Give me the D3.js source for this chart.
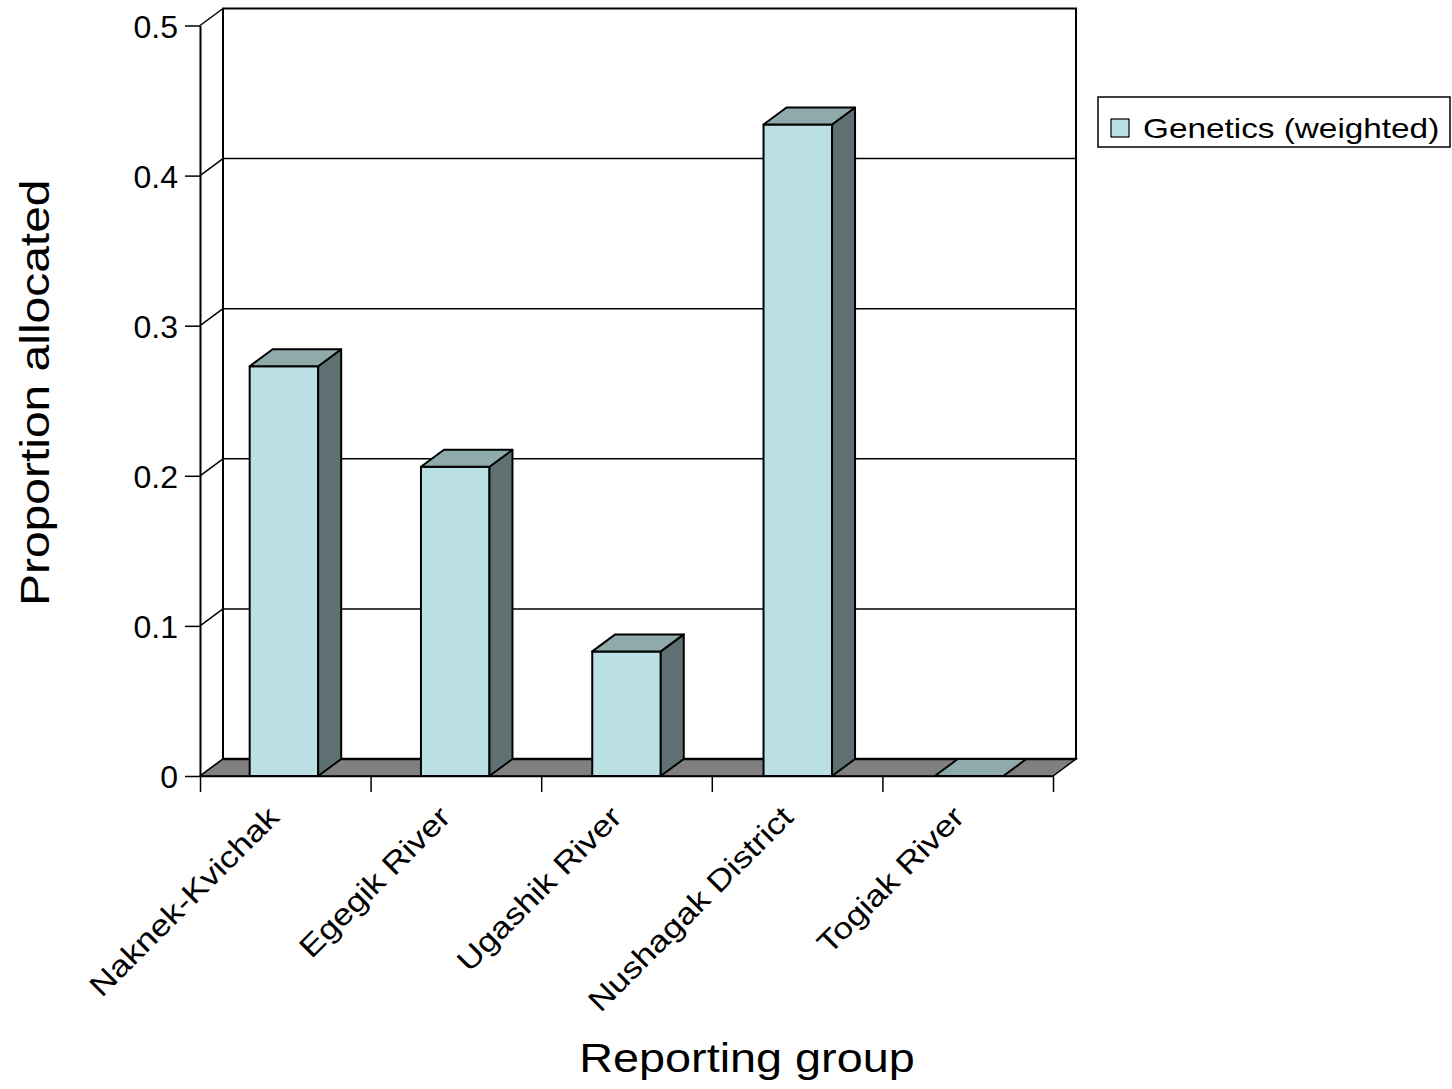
<!DOCTYPE html>
<html>
<head>
<meta charset="utf-8">
<script src="https://cdn.jsdelivr.net/npm/d3@7"></script>
<style>
  body { margin: 0; background: #fff; }
  text { font-family: "Liberation Sans", Arial, sans-serif; fill: #000; }
</style>
</head>
<body>
<svg id="chart" width="1452" height="1089"></svg>
<script>
// Allocation proportions per reporting group
const categories = ["Naknek-Kvichak", "Egegik River", "Ugashik River", "Nushagak District", "Togiak River"];
const seriesName = "Genetics (weighted)";
const values = [0.273, 0.206, 0.083, 0.434, 0.0];
const yTicks = [0, 0.1, 0.2, 0.3, 0.4, 0.5];
const yTickLabels = ["0", "0.1", "0.2", "0.3", "0.4", "0.5"];
const xTitle = "Reporting group";
const yTitle = "Proportion allocated";

const colors = { front: "#bbe0e3", top: "#8eaaab", side: "#5e7072", floor: "#808080" };

const svg = d3.select("#chart");

// plot frame (front plane) and 3D depth offset
const X0 = 200, X1 = 1053, Y0 = 776, Y1 = 25.5;
const DX = 23, DY = -17;
const STRETCH = 1.17;

const x = d3.scaleBand().domain(categories).range([X0, X1]).paddingInner(0.6).paddingOuter(0.29);
const xEdge = d3.scaleLinear().domain([0, categories.length]).range([X0, X1]);
const y = d3.scaleLinear().domain([0, 0.5]).range([Y0, Y1]);

const pts = a => a.map(p => p.join(",")).join(" ");

// back wall
const wall = svg.append("g");
wall.append("rect")
  .attr("x", X0 + DX).attr("y", y(0.5) + DY)
  .attr("width", X1 - X0).attr("height", y(0) - y(0.5))
  .attr("fill", "#fff").attr("stroke", "#000").attr("stroke-width", 2);

// gridlines on back wall
wall.selectAll("line.grid").data(yTicks.slice(1, -1)).join("line")
  .attr("class", "grid")
  .attr("x1", X0 + DX).attr("x2", X1 + DX)
  .attr("y1", d => y(d) + DY).attr("y2", d => y(d) + DY)
  .attr("stroke", "#000").attr("stroke-width", 1.5);

// side wall: diagonals from front axis to back wall at each tick
wall.selectAll("line.diag").data(yTicks).join("line")
  .attr("class", "diag")
  .attr("x1", X0).attr("y1", d => y(d))
  .attr("x2", X0 + DX).attr("y2", d => y(d) + DY)
  .attr("stroke", "#000").attr("stroke-width", 1.5);

// floor
svg.append("polygon")
  .attr("points", pts([[X0, y(0)], [X1, y(0)], [X1 + DX, y(0) + DY], [X0 + DX, y(0) + DY]]))
  .attr("fill", colors.floor).attr("stroke", "#000").attr("stroke-width", 1.5);
svg.append("line")
  .attr("x1", X0 + DX).attr("x2", X1 + DX).attr("y1", y(0) + DY).attr("y2", y(0) + DY)
  .attr("stroke", "#000").attr("stroke-width", 2.5);

// y axis
const yAxis = svg.append("g")
  .attr("transform", `translate(${X0},0)`)
  .call(d3.axisLeft(y).tickValues(yTicks).tickFormat((d, i) => yTickLabels[i])
    .tickSize(15).tickSizeOuter(0).tickPadding(7));
yAxis.select(".domain").attr("stroke", "#000").attr("stroke-width", 2);
yAxis.selectAll(".tick line").attr("stroke", "#000").attr("stroke-width", 1.5);
yAxis.selectAll(".tick text").attr("font-size", 32).attr("font-family", "Liberation Sans, Arial, sans-serif")
  .attr("fill", "#000").attr("dy", "0.36em");

// x axis ticks at category boundaries
const xAxis = svg.append("g")
  .attr("transform", `translate(0,${Y0})`)
  .call(d3.axisBottom(xEdge).tickValues(d3.range(categories.length + 1)).tickFormat("")
    .tickSize(16).tickSizeOuter(0));
xAxis.select(".domain").attr("stroke", "#000").attr("stroke-width", 1.5);
xAxis.selectAll(".tick line").attr("stroke", "#000").attr("stroke-width", 1.5);

// 3D bars
const bars = svg.append("g").selectAll("g.bar").data(categories.map((c, i) => ({ c, v: values[i] }))).join("g")
  .attr("class", "bar");
bars.each(function (d) {
  const g = d3.select(this);
  const l = x(d.c), r = x(d.c) + x.bandwidth(), t = y(d.v), b = y(0);
  if (d.v > 0) {
    g.append("polygon").attr("points", pts([[l, t], [r, t], [r, b], [l, b]]))
      .attr("fill", colors.front).attr("stroke", "#000").attr("stroke-width", 2).attr("stroke-linejoin", "round");
    g.append("polygon").attr("points", pts([[r, t], [r + DX, t + DY], [r + DX, b + DY], [r, b]]))
      .attr("fill", colors.side).attr("stroke", "#000").attr("stroke-width", 2).attr("stroke-linejoin", "round");
  }
  g.append("polygon").attr("points", pts([[l, t], [l + DX, t + DY], [r + DX, t + DY], [r, t]]))
    .attr("fill", colors.top).attr("stroke", "#000").attr("stroke-width", 2).attr("stroke-linejoin", "round");
});

// category labels, rotated
svg.append("g").selectAll("text.cat").data(categories).join("text")
  .attr("class", "cat")
  .attr("transform", d => `translate(${x(d) + x.bandwidth() / 2 - 3},819) rotate(-45) scale(${STRETCH},1)`)
  .attr("text-anchor", "end")
  .attr("font-size", 30)
  .text(d => d);

// axis titles
svg.append("text")
  .attr("transform", `translate(747,1072) scale(${STRETCH},1)`)
  .attr("text-anchor", "middle").attr("font-size", 40).text(xTitle);
svg.append("text")
  .attr("transform", `translate(49,${(Y0 + Y1) / 2 - 8}) rotate(-90) scale(${STRETCH},1)`)
  .attr("text-anchor", "middle").attr("font-size", 41).text(yTitle);

// legend
const legend = svg.append("g").attr("transform", "translate(1098,97)");
legend.append("rect").attr("width", 352).attr("height", 50)
  .attr("fill", "#fff").attr("stroke", "#000").attr("stroke-width", 1.5);
legend.append("rect").attr("x", 13).attr("y", 22).attr("width", 18).attr("height", 18)
  .attr("fill", colors.front).attr("stroke", "#000").attr("stroke-width", 1.2);
legend.append("text").attr("transform", `translate(45,40.5) scale(1.19,1)`)
  .attr("font-size", 28).text(seriesName);
</script>
</body>
</html>
